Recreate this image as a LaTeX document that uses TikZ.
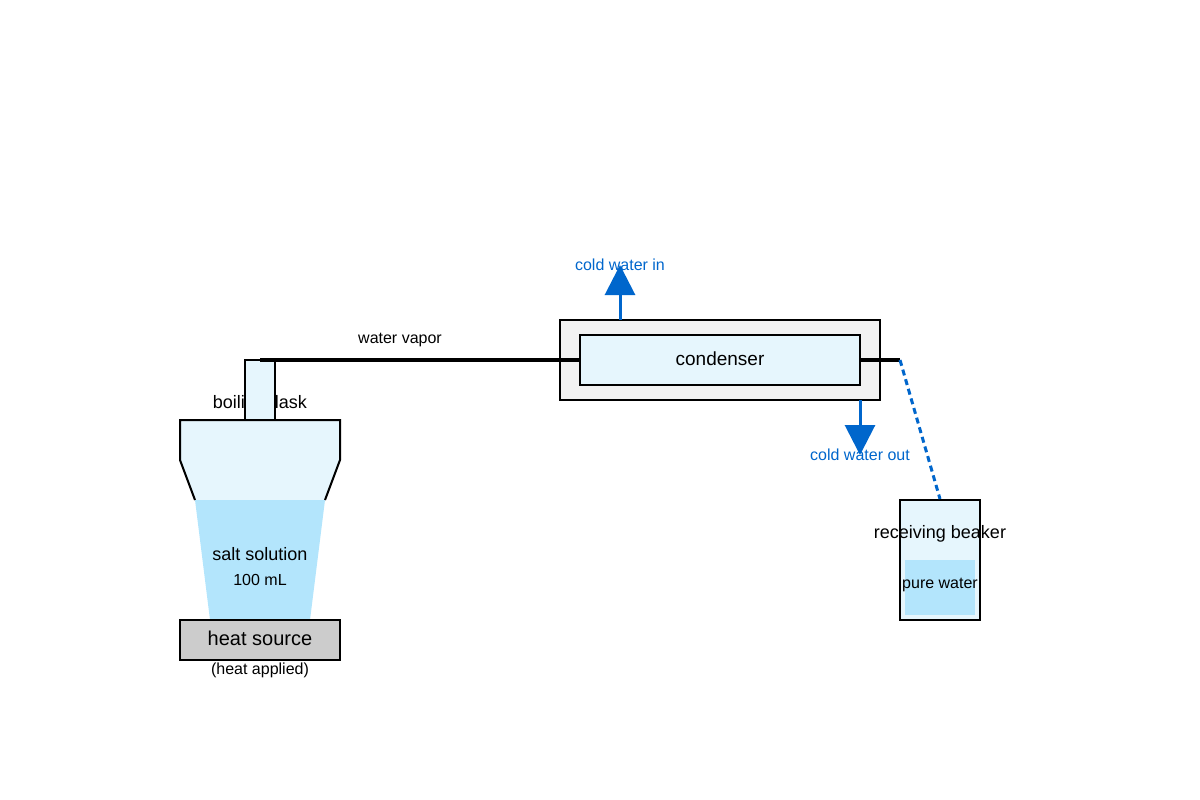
\documentclass[tikz,border=0pt]{standalone}
\usepackage{fontspec}
\setmainfont{Liberation Sans}
\usetikzlibrary{arrows.meta}
\definecolor{lb}{HTML}{E6F6FD}
\definecolor{wb}{HTML}{B3E5FC}
\definecolor{bl}{HTML}{0066CC}
\definecolor{gr}{HTML}{F2F2F2}
\definecolor{hs}{HTML}{CCCCCC}
\tikzset{
  box/.style={draw=black,line width=2pt},
  lbl/.style={font=\fontsize{18}{21}\selectfont,inner sep=0},
  sm/.style={font=\fontsize{16}{19}\selectfont,inner sep=0},
  blab/.style={font=\fontsize{16}{19}\selectfont,inner sep=0,text=bl},
  flow/.style={draw=bl,line width=3pt,-{Triangle[width=30pt,length=30pt]}},
  pipe/.style={draw=black,line width=3.5pt}
}
\begin{document}
\begin{tikzpicture}[x=1pt,y=-1pt]
\useasboundingbox (0,0) rectangle (1200,800);
% flask
\fill[lb] (180,420)--(340,420)--(340,460)--(325,500)--(195,500)--(180,460)--cycle;
\draw[line width=2pt] (195,500)--(180,460)--(180,420)--(340,420)--(340,460)--(325,500);
\fill[wb] (195,500)--(325,500)--(310,620)--(210,620)--cycle;
\node[lbl] (flasklbl) at (260,404) {boiling flask};
\node[box,fill=lb,minimum width=30pt,minimum height=60pt,inner sep=0] (neck) at (260,390) {};
\node[lbl] (salt) at (260,554) {salt solution};
\node[sm] (vol) at (260,580) {100 mL};
\node[box,fill=hs,minimum width=160pt,minimum height=40pt,inner sep=0] (heat) at (260,640) {};
\node[inner sep=0,font=\fontsize{20}{23}\selectfont] (heattxt) at (260,638) {heat source};
\node[sm] (applied) at (260,670) {(heat applied)};
% condenser
\node[box,fill=gr,minimum width=320pt,minimum height=80pt] (outer) at (720,360) {};
\node[box,fill=lb,minimum width=280pt,minimum height=50pt,inner sep=0] (cond) at (720,360) {};
\node[inner sep=0,font=\fontsize{19}{22}\selectfont] (condtxt) at (720,359) {condenser};
\coordinate (vs) at (260,360);
\coordinate (bend) at (900,360);
\draw[pipe] (vs) -- (cond.west);
\draw[pipe] (cond.east) -- (bend);
\node[sm] (vap) at (400,340) {water vapor};
% beaker
\node[box,fill=lb,minimum width=80pt,minimum height=120pt,inner sep=0] (beaker) at (940,560) {};
\fill[wb] (905,560) rectangle (975,615);
\node[lbl] (rb) at (940,534) {receiving beaker};
\node[sm] (pw) at (940,585) {pure water};
\draw[bl,line width=3pt,dash pattern=on 6pt off 4pt] (bend) -- (beaker.north);
% water flows
\coordinate (inT) at (620,265);
\coordinate (outT) at (860,455);
\draw[flow] (620,320) -- (inT);
\draw[flow] (860,400) -- (outT);
\node[blab] (cwi) at (620,265) {cold water in};
\node[blab] (cwo) at (860,455) {cold water out};
\end{tikzpicture}
\end{document}
